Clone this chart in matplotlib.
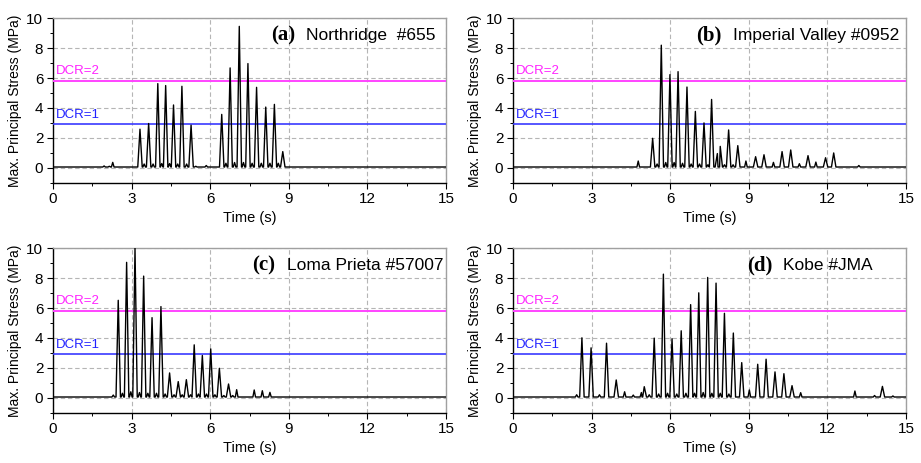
import matplotlib
matplotlib.use("Agg")
import matplotlib.pyplot as plt
from matplotlib.ticker import MultipleLocator

plt.rcParams['font.family'] = ['Liberation Sans', 'DejaVu Sans']

# ---------------- data ----------------
dcr1_level = 2.9
dcr2_level = 5.8
baseline = 0.05

# (a) Northridge #655
a_t = [1.95, 2.15, 2.28, 3.32, 3.48, 3.65, 3.82, 4.00, 4.15, 4.30, 4.45, 4.60, 4.76, 4.92, 5.10, 5.27,
       5.45, 5.85, 6.44, 6.60, 6.76, 6.93, 7.11, 7.27, 7.44, 7.60, 7.77, 7.95, 8.12, 8.28, 8.45, 8.60, 8.77]
a_v = [0.12, 0.10, 0.36, 2.58, 0.25, 2.96, 0.25, 5.63, 0.28, 5.50, 0.28, 4.20, 0.25, 5.45, 0.25, 2.85,
       0.10, 0.15, 3.57, 0.30, 6.68, 0.35, 9.46, 0.35, 6.97, 0.30, 5.38, 0.30, 4.06, 0.30, 4.24, 0.30, 1.08]

# (b) Imperial Valley #0952
b_t = [4.78, 5.33, 5.50, 5.66, 5.83, 5.99, 6.15, 6.30, 6.47, 6.64, 6.80, 6.96, 7.12, 7.29, 7.44, 7.58,
       7.80, 7.91, 8.07, 8.23, 8.40, 8.58, 8.89, 9.26, 9.58, 9.94, 10.27, 10.60, 10.93, 11.26, 11.56,
       11.93, 12.24, 13.20]
b_v = [0.45, 1.97, 0.25, 8.20, 0.35, 6.23, 0.35, 6.43, 0.30, 5.40, 0.25, 3.77, 0.25, 3.00, 0.20, 4.57,
       0.95, 1.43, 0.20, 2.53, 0.20, 1.48, 0.45, 0.74, 0.87, 0.36, 1.08, 1.19, 0.27, 0.81, 0.38,
       0.67, 0.99, 0.15]

# (c) Loma Prieta #57007
c_t = [2.30, 2.49, 2.65, 2.81, 2.97, 3.13, 3.30, 3.46, 3.62, 3.78, 3.95, 4.12, 4.28, 4.45, 4.62, 4.78,
       4.93, 5.09, 5.25, 5.39, 5.55, 5.70, 5.86, 6.02, 6.18, 6.35, 6.52, 6.70, 6.86, 7.01, 7.68, 7.99, 8.28]
c_v = [0.18, 6.52, 0.30, 9.06, 0.40, 10.0, 0.35, 8.14, 0.30, 5.36, 0.30, 6.10, 0.25, 1.66, 0.20, 1.08,
       0.20, 1.21, 0.20, 3.54, 0.25, 2.83, 0.25, 3.27, 0.20, 1.97, 0.15, 0.92, 0.15, 0.54, 0.52, 0.47, 0.36]

# (d) Kobe #JMA
d_t = [2.43, 2.63, 2.98, 3.30, 3.57, 3.94, 4.26, 4.59, 4.90, 5.01, 5.20, 5.39, 5.56, 5.74, 5.90, 6.07,
       6.25, 6.42, 6.60, 6.78, 6.93, 7.09, 7.26, 7.43, 7.59, 7.75, 7.91, 8.07, 8.24, 8.41, 8.73, 9.02,
       9.34, 9.66, 10.00, 10.34, 10.65, 10.98, 13.05, 13.80, 14.10, 14.50]
d_v = [0.20, 4.01, 3.34, 0.20, 3.65, 1.19, 0.40, 0.18, 0.35, 0.74, 0.20, 3.99, 0.25, 8.27, 0.30, 3.95,
       0.25, 4.48, 0.30, 6.23, 0.30, 7.02, 0.35, 8.05, 0.30, 7.67, 0.30, 5.65, 0.25, 4.33, 2.35, 0.52,
       2.24, 2.58, 1.73, 1.61, 0.81, 0.34, 0.45, 0.15, 0.76, 0.12]

panels = [
    ("(a)", "Northridge  #655", a_t, a_v, 0.555, 0.645),
    ("(b)", "Imperial Valley #0952", b_t, b_v, 0.465, 0.561),
    ("(c)", "Loma Prieta #57007", c_t, c_v, 0.506, 0.596),
    ("(d)", "Kobe #JMA", d_t, d_v, 0.595, 0.686),
]

x_ticks = [0, 3, 6, 9, 12, 15]
y_ticks = [0, 2, 4, 6, 8, 10]

# ---------------- figure ----------------
fig = plt.figure(figsize=(9.21, 4.63), dpi=100)
W, H = 921.0, 463.0
ax_w = 393 / W
ax_h = 164.4 / H
lefts = [53 / W, 513 / W]
bottoms = [1 - 182.7 / H, 1 - 412.7 / H]
positions = [(lefts[0], bottoms[0]), (lefts[1], bottoms[0]), (lefts[0], bottoms[1]), (lefts[1], bottoms[1])]


def build_line(ts, vs, hw_big=0.085, hw_small=0.05):
    pts = [(0.0, baseline)]
    for t, v in zip(ts, vs):
        hw = hw_big if v > 0.6 else hw_small
        pts.append((t - hw, baseline))
        pts.append((t, v))
        pts.append((t + hw, baseline))
    pts.append((15.0, baseline))
    pts.sort(key=lambda p: p[0])
    return [p[0] for p in pts], [p[1] for p in pts]


for (lab, name, ts, vs, xl, xn), (l, b) in zip(panels, positions):
    ax = fig.add_axes([l, b, ax_w, ax_h])
    ax.set_xlim(0, 15)
    ax.set_ylim(-1, 10)
    ax.set_xticks(x_ticks)
    ax.set_yticks(y_ticks)
    ax.xaxis.set_minor_locator(MultipleLocator(1.5))
    ax.yaxis.set_minor_locator(MultipleLocator(1))
    ax.tick_params(which='major', direction='out', length=4, width=0.8, labelsize=11, pad=3)
    ax.tick_params(which='minor', direction='out', length=2.5, width=0.7)
    ax.grid(True, which='major', color='#b5b5b5', linestyle=(0, (4, 2.5)), linewidth=0.8)
    ax.set_axisbelow(True)
    for s in ['top', 'right']:
        ax.spines[s].set_color('#a0a0a0')
        ax.spines[s].set_linewidth(1.0)
    for s in ['left', 'bottom']:
        ax.spines[s].set_linewidth(1.0)

    ax.axhline(dcr2_level, color='#ff44ff', lw=1.4, zorder=3)
    ax.axhline(dcr1_level, color='#3a3aff', lw=1.2, zorder=3)
    ax.text(0.12, dcr2_level + 0.25, "DCR=2", color='#ff22ff', fontsize=9.5, va='bottom', ha='left')
    ax.text(0.12, dcr1_level + 0.25, "DCR=1", color='#2222ff', fontsize=9.5, va='bottom', ha='left')

    xs, ys = build_line(ts, vs)
    ax.plot(xs, ys, color='black', lw=1.0, zorder=4)

    ax.text(xl, 0.895, lab, transform=ax.transAxes, fontsize=15, fontweight='bold',
            family='Liberation Serif', va='center', ha='left')
    ax.text(xn, 0.895, name, transform=ax.transAxes, fontsize=12.5, va='center', ha='left')

    ax.set_xlabel("Time (s)", fontsize=10.5, labelpad=3)
    ax.set_ylabel("Max. Principal Stress (MPa)", fontsize=10, labelpad=3)

fig.savefig("out.png", dpi=100)
